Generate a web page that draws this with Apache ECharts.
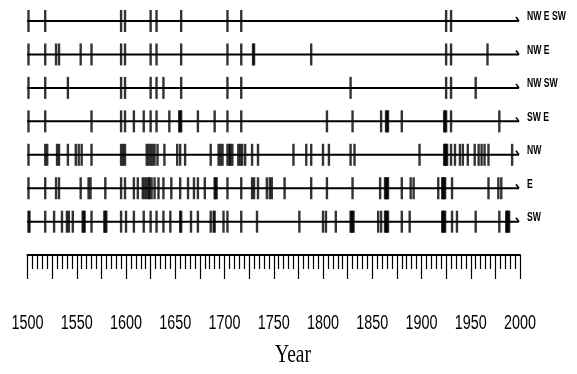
<!DOCTYPE html>
<html>
<head>
<meta charset="utf-8">
<script src="https://cdn.jsdelivr.net/npm/echarts@6/dist/echarts.min.js"></script>
<style>
  html, body { margin: 0; padding: 0; background: #fff; }
  #main { width: 577px; height: 374px; }
</style>
</head>
<body>
<div id="main"></div>
<script>
// row labels, top to bottom
var rowNames = ['NW E SW', 'NW E', 'NW SW', 'SW E', 'NW', 'E', 'SW'];

// event years
var yearsNWESW = [1501, 1518, 1595, 1599, 1625, 1631, 1656, 1703, 1717, 1925, 1930];
var yearsNWE = [1501, 1518, 1529, 1532, 1554, 1565, 1595, 1599, 1625, 1631, 1656, 1703, 1717,
    1729, 1730, 1788, 1925, 1930, 1967];
var yearsNWSW = [1501, 1518, 1541, 1595, 1599, 1625, 1631, 1638, 1656, 1703, 1717, 1828, 1925,
    1930, 1955];
var yearsSWE = [1501, 1518, 1565, 1595, 1599, 1608, 1618, 1625, 1631, 1644, 1654, 1655, 1656,
    1673, 1690, 1703, 1717, 1804, 1830, 1859, 1864, 1865, 1866, 1880, 1923, 1924, 1925, 1930, 1979];
var yearsNW = [1501, 1518, 1520, 1530, 1532, 1541, 1549, 1552, 1555, 1565, 1595, 1597, 1599,
    1621, 1623, 1625, 1627, 1629, 1632, 1639, 1652, 1655, 1660, 1686, 1694, 1696, 1698, 1703,
    1705, 1706, 1708, 1714, 1716, 1718, 1721, 1728, 1734, 1770, 1783, 1788, 1800, 1806, 1828,
    1832, 1898, 1923, 1924, 1925, 1926, 1930, 1934, 1939, 1942, 1947, 1954, 1958, 1961, 1964,
    1968, 1992];
var yearsE = [1501, 1518, 1529, 1532, 1554, 1562, 1564, 1579, 1595, 1599, 1608, 1612, 1617,
    1619, 1621, 1623, 1624, 1626, 1629, 1633, 1638, 1646, 1655, 1663, 1669, 1673, 1680, 1690,
    1691, 1692, 1703, 1717, 1728, 1730, 1734, 1743, 1746, 1748, 1761, 1788, 1804, 1830, 1858,
    1863, 1864, 1865, 1866, 1880, 1889, 1892, 1917, 1921, 1922, 1923, 1924, 1931, 1968, 1978, 1981];
var yearsSW = [1501, 1502, 1518, 1527, 1535, 1540, 1542, 1546, 1556, 1557, 1558, 1565, 1578,
    1579, 1580, 1595, 1600, 1608, 1618, 1625, 1631, 1638, 1645, 1655, 1656, 1666, 1673, 1686,
    1689, 1690, 1699, 1703, 1717, 1733, 1776, 1800, 1803, 1813, 1828, 1829, 1830, 1831, 1856,
    1859, 1863, 1864, 1865, 1866, 1880, 1888, 1921, 1922, 1923, 1924, 1931, 1936, 1955, 1979,
    1986, 1987, 1988, 1989];

var rows = [yearsNWESW, yearsNWE, yearsNWSW, yearsSWE, yearsNW, yearsE, yearsSW];

// labelled years under the ruler
var tickLabels = [1500, 1550, 1600, 1650, 1700, 1750, 1800, 1850, 1900, 1950, 2000];

var sans = "'Liberation Sans', Arial, sans-serif";

var tickData = [];
for (var i = 0; i < rows.length; i++) {
    for (var j = 0; j < rows[i].length; j++) {
        tickData.push([rows[i][j], i]);
    }
}
var lineData = [];
for (var k = 0; k < rowNames.length; k++) {
    lineData.push([1500, k]);
}
var labelData = tickLabels.map(function (v) { return [v, 0]; });

var myChart = echarts.init(document.getElementById('main'));

var option = {
    animation: false,
    backgroundColor: '#fff',
    grid: [
        {left: 27.5, right: 57, top: 21, height: 200.7},
        {left: 27.5, right: 57, top: 250, height: 5}
    ],
    xAxis: [
        {gridIndex: 0, type: 'value', min: 1500, max: 2000, show: false},
        {
            gridIndex: 1, type: 'value', min: 1500, max: 2000, interval: 25,
            axisLine: {show: true, lineStyle: {color: '#000', width: 2}},
            axisTick: {show: true, length: 24, lineStyle: {color: '#000', width: 1.2}},
            minorTick: {show: true, splitNumber: 5, length: 14, lineStyle: {color: '#000', width: 1.2}},
            splitLine: {show: false},
            axisLabel: {show: false}
        }
    ],
    yAxis: [
        {gridIndex: 0, type: 'value', min: 0, max: 6, inverse: true, show: false},
        {gridIndex: 1, type: 'value', min: 0, max: 1, show: false}
    ],
    graphic: [{
        type: 'text',
        x: 293, y: 355,
        scaleX: 0.78,
        style: {
            text: 'Year', fill: '#000',
            font: "25px 'Liberation Serif', 'Times New Roman', serif",
            textAlign: 'center', textVerticalAlign: 'middle'
        }
    }],
    series: [
        {
            // base line of each row, with the small hook and the row name
            type: 'custom',
            xAxisIndex: 0, yAxisIndex: 0,
            clip: false,
            data: lineData,
            renderItem: function (params, api) {
                var r = api.value(1);
                var a = api.coord([1500, r]);
                var b = api.coord([2000, r]);
                return {
                    type: 'group',
                    children: [
                        {type: 'line', shape: {x1: a[0] - 0.5, y1: a[1], x2: b[0] - 1, y2: b[1]},
                            style: {stroke: '#000', lineWidth: 2}},
                        {type: 'line', shape: {x1: b[0] - 1, y1: b[1], x2: b[0] - 4, y2: b[1] - 4},
                            style: {stroke: '#000', lineWidth: 1.5}},
                        {type: 'text', x: b[0] + 7, y: b[1] - 4, scaleX: 0.72, style: {
                            text: rowNames[r], x: 0, y: 0,
                            fill: '#000', textVerticalAlign: 'middle',
                            font: "bold 12px " + sans
                        }}
                    ]
                };
            }
        },
        {
            type: 'scatter',
            xAxisIndex: 0, yAxisIndex: 0,
            clip: false,
            symbol: 'rect',
            symbolSize: [2.4, 22],
            itemStyle: {color: '#000'},
            data: tickData
        },
        {
            // narrow year labels under the ruler
            type: 'custom',
            xAxisIndex: 1, yAxisIndex: 1,
            clip: false,
            data: labelData,
            renderItem: function (params, api) {
                var p = api.coord([api.value(0), 0]);
                return {
                    type: 'text', x: p[0], y: p[1] + 68, scaleX: 0.72,
                    style: {
                        text: String(api.value(0)), x: 0, y: 0,
                        fill: '#000', textAlign: 'center', textVerticalAlign: 'middle',
                        font: "20px " + sans
                    }
                };
            }
        }
    ]
};
myChart.setOption(option);
window.onresize = myChart.resize;
</script>
</body>
</html>
